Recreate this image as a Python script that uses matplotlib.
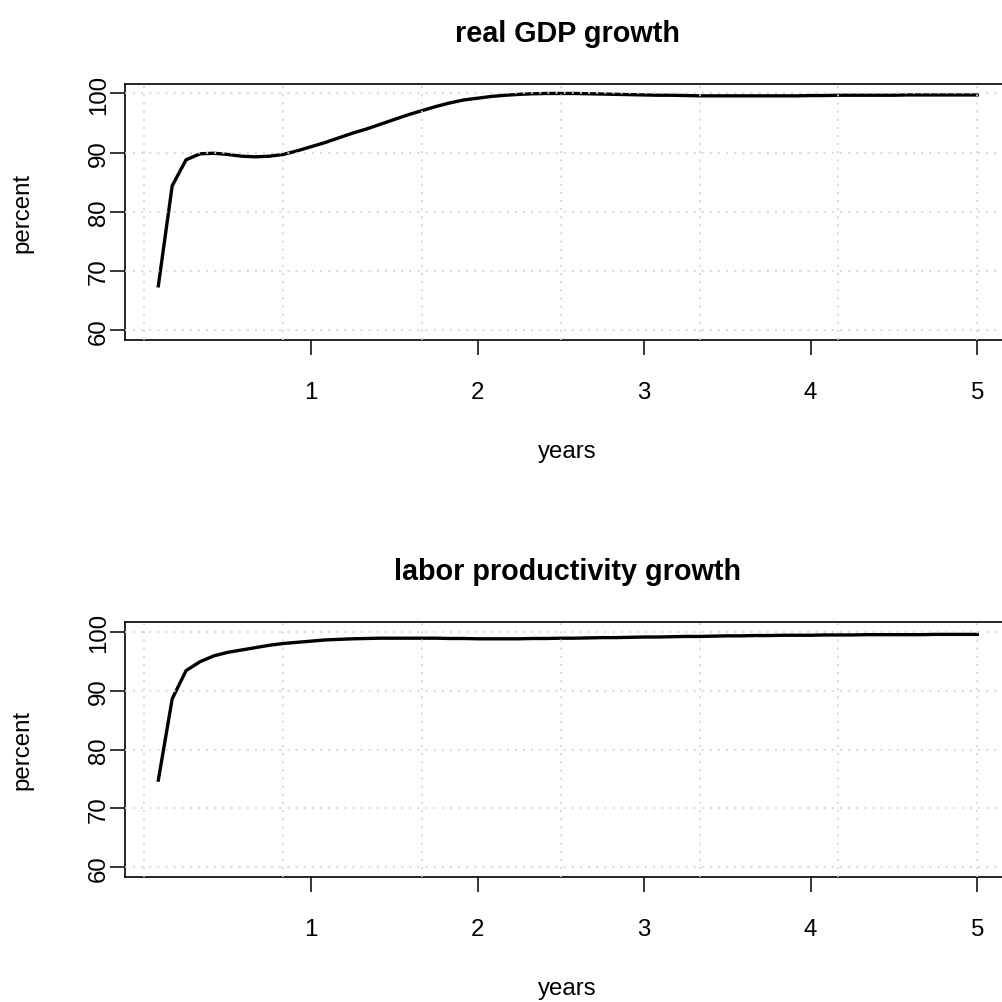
import numpy as np
import matplotlib
matplotlib.use("Agg")
import matplotlib.pyplot as plt

plt.rcParams['font.family'] = ['Liberation Sans', 'DejaVu Sans']

# monthly horizon, 1 to 60 months
years = np.arange(1, 61) / 12

gdp = [67.5, 84.4, 88.8, 89.8, 89.9, 89.7, 89.4, 89.3, 89.4, 89.7,
       90.3, 91.0, 91.7, 92.5, 93.3, 94.0, 94.8, 95.6, 96.4, 97.1,
       97.8, 98.4, 98.9, 99.2, 99.5, 99.7, 99.85, 99.95, 100.0, 100.0,
       100.0, 99.95, 99.9, 99.85, 99.8, 99.75, 99.7, 99.7, 99.65, 99.6,
       99.6, 99.6, 99.6, 99.6, 99.6, 99.6, 99.6, 99.65, 99.65, 99.7,
       99.7, 99.7, 99.7, 99.7, 99.75, 99.75, 99.75, 99.75, 99.75, 99.75]

labor = [74.8, 88.6, 93.4, 94.9, 95.9, 96.5, 96.9, 97.3, 97.7, 98.0,
         98.2, 98.4, 98.6, 98.7, 98.8, 98.85, 98.9, 98.9, 98.9, 98.9,
         98.9, 98.85, 98.85, 98.8, 98.8, 98.8, 98.8, 98.85, 98.85, 98.9,
         98.9, 98.95, 99.0, 99.0, 99.05, 99.1, 99.1, 99.15, 99.2, 99.2,
         99.25, 99.3, 99.3, 99.35, 99.35, 99.4, 99.4, 99.4, 99.45, 99.45,
         99.45, 99.5, 99.5, 99.5, 99.5, 99.5, 99.55, 99.55, 99.55, 99.55]

titles = ["real GDP growth", "labor productivity growth"]
series = [gdp, labor]
yticks = [60, 70, 80, 90, 100]
xticks = [1, 2, 3, 4, 5]
vgrid = [0, 5 / 6, 10 / 6, 2.5, 20 / 6, 25 / 6, 5]

fig = plt.figure(figsize=(10.03, 10.03), dpi=100)

W, H = 1003.0, 1003.0
panels = [(85.0, 340.7), (623.3, 877.7)]  # top/bottom edges in pixels
left_px, right_px = 125.0, 1010.0

for k, (top, bot) in enumerate(panels):
    ax = fig.add_axes([left_px / W, 1 - bot / H,
                       (right_px - left_px) / W, (bot - top) / H])
    ax.plot(years, series[k], color='black', lw=2.4, zorder=2,
            solid_joinstyle='round', clip_on=False)

    # dotted grid drawn over the line
    for gx in vgrid:
        ax.axvline(gx, color='#d3d3d3', lw=1.3, ls=(0, (1, 3.5)), zorder=3)
    for gy in yticks:
        ax.axhline(gy, color='#d3d3d3', lw=1.3, ls=(0, (1, 3.5)), zorder=3)

    ax.set_xlim(-0.1167, 5.1967)
    ax.set_ylim(58.4, 101.6)
    ax.set_xticks(xticks)
    ax.set_yticks(yticks)
    ax.set_xticklabels([str(v) for v in xticks])
    ax.set_yticklabels([str(v) for v in yticks], rotation=90, va='center')
    ax.tick_params(axis='both', direction='out', length=10.8, width=1.1,
                   labelsize=17.3, color='black')
    ax.tick_params(axis='x', pad=19)
    ax.tick_params(axis='y', pad=0)
    for s in ax.spines.values():
        s.set_linewidth(1.2)

    ax.set_title(titles[k], fontsize=20.7, fontweight='bold', pad=31)

    # axis titles placed at fixed positions
    mid = (top + bot) / 2
    fig.text(567.5 / W, 1 - (bot + 111.5) / H, "years", fontsize=17.3,
             ha='center', va='center')
    fig.text(22 / W, 1 - mid / H, "percent", fontsize=17.3,
             ha='center', va='center', rotation=90)

fig.savefig("out.png", dpi=100)
